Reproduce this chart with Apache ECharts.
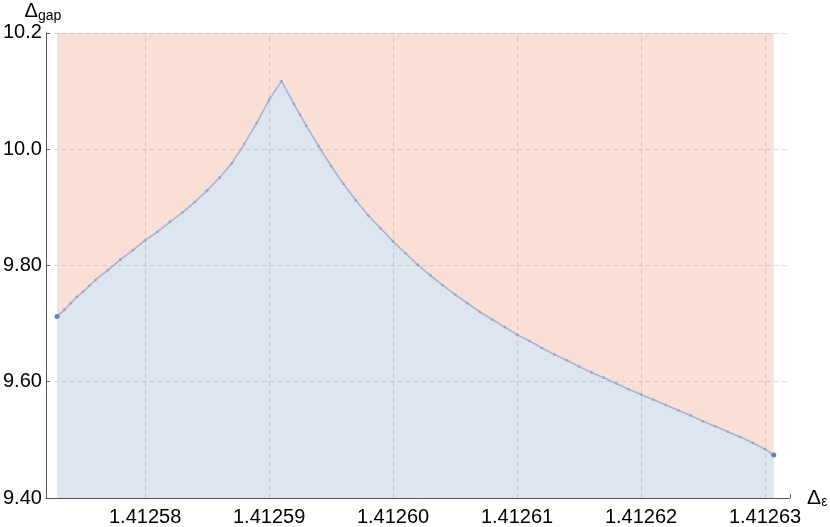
<!DOCTYPE html>
<html>
<head>
<meta charset="utf-8">
<script src="https://cdn.jsdelivr.net/npm/echarts@6/dist/echarts.min.js"></script>
<style>html,body{margin:0;padding:0;background:#fff;}#c{width:830px;height:527px;}</style>
</head>
<body>
<div id="c"></div>
<script>
// Δε values (x)
var deltaEps = [
  1.4125729, 1.4125735, 1.412574, 1.4125745, 1.412575, 1.4125755, 1.412576,
  1.412577, 1.412578, 1.412579, 1.41258, 1.412581, 1.412582, 1.412583, 1.412584,
  1.412585, 1.412586, 1.412587, 1.412588, 1.412589, 1.41259, 1.412591, 1.412592,
  1.4125925, 1.412593, 1.412594, 1.412595, 1.412596, 1.412597, 1.412598, 1.412599,
  1.4126, 1.412601, 1.412602, 1.412603, 1.412604, 1.412605, 1.412606, 1.412607,
  1.412608, 1.412609, 1.41261, 1.412611, 1.412612, 1.412613, 1.412614, 1.412615,
  1.412616, 1.412617, 1.412618, 1.412619, 1.41262, 1.412621, 1.412622, 1.412623,
  1.412624, 1.412625, 1.412626, 1.412627, 1.412628, 1.412629, 1.41263, 1.4126307
];
// Δgap values (y)
var deltaGap = [
  9.712, 9.724, 9.735, 9.746, 9.755, 9.765, 9.775,
  9.792, 9.810, 9.826, 9.843, 9.858, 9.875, 9.891, 9.909,
  9.929, 9.951, 9.976, 10.009, 10.045, 10.085, 10.117, 10.078,
  10.059, 10.040, 10.005, 9.971, 9.940, 9.912, 9.886, 9.864,
  9.841, 9.821, 9.801, 9.783, 9.766, 9.750, 9.735, 9.720,
  9.707, 9.694, 9.681, 9.670, 9.658, 9.647, 9.637, 9.626,
  9.616, 9.607, 9.597, 9.587, 9.578, 9.569, 9.560, 9.551,
  9.542, 9.532, 9.523, 9.514, 9.505, 9.495, 9.484, 9.474
];
// tick labels
var xMajorTicks = [1.41258, 1.41259, 1.41260, 1.41261, 1.41262, 1.41263];
var yTickValues = [9.4, 9.6, 9.8, 10.0, 10.2];
var yTickLabels = ['9.40', '9.60', '9.80', '10.0', '10.2'];

var pts = deltaEps.map(function (x, i) {
  var item = { value: [x, deltaGap[i]] };
  if (i === 0 || i === deltaEps.length - 1) {
    item.symbolSize = 5;
    item.itemStyle = { color: '#6483bb' };
  }
  return item;
});

var FONT = 'Liberation Sans, Arial, sans-serif';
var gridLineStyle = { color: 'rgba(120,120,120,0.24)', width: 1, type: [5, 3] };
var yLo = yTickValues[0], yHi = yTickValues[yTickValues.length - 1];

var gridLines = xMajorTicks.map(function (x) {
  return [{ coord: [x, yLo] }, { coord: [x, yHi] }];
}).concat(yTickValues.slice(1).map(function (y) { return { yAxis: y }; }));

var chart = echarts.init(document.getElementById('c'), null, { renderer: 'canvas' });
chart.setOption({
  animation: false,
  backgroundColor: '#ffffff',
  grid: { left: 44, right: 31, top: 32, bottom: 29, containLabel: false },
  xAxis: {
    type: 'value',
    min: 1.412572,
    max: 1.412632,
    interval: 0.000002,
    name: '{d|Δ}{s|ε}',
    nameLocation: 'end',
    nameGap: 8,
    nameTextStyle: {
      rich: {
        d: { fontFamily: FONT, fontSize: 21, color: '#000', lineHeight: 20 },
        s: { fontFamily: FONT, fontSize: 14, color: '#000', lineHeight: 20, padding: [9, 0, 0, 0] }
      }
    },
    axisLine: { show: true, lineStyle: { color: '#555', width: 1 } },
    axisTick: { show: true, inside: true, length: 4, lineStyle: { color: '#555' } },
    splitLine: { show: false },
    axisLabel: {
      fontFamily: FONT, fontSize: 20, color: '#000', margin: 9,
      showMinLabel: true, showMaxLabel: true,
      formatter: function (v) {
        var k = Math.round(v * 1e6);
        if (k % 10 !== 0) return '';
        for (var i = 0; i < xMajorTicks.length; i++) {
          if (Math.abs(xMajorTicks[i] - v) < 1e-8) return xMajorTicks[i].toFixed(5);
        }
        return '';
      }
    }
  },
  yAxis: {
    type: 'value',
    min: 9.4,
    max: 10.2,
    interval: 0.2,
    name: '{d|Δ}{s|gap}',
    nameLocation: 'end',
    nameGap: 6,
    nameTextStyle: {
      align: 'center',
      padding: [0, 0, 0, -6],
      rich: {
        d: { fontFamily: FONT, fontSize: 20, color: '#000', lineHeight: 20 },
        s: { fontFamily: FONT, fontSize: 14, color: '#000', lineHeight: 20, padding: [9, 0, 0, 0] }
      }
    },
    axisLine: { show: true, lineStyle: { color: '#555', width: 1 } },
    axisTick: { show: true, inside: true, length: 4, lineStyle: { color: '#555' } },
    splitLine: { show: false },
    axisLabel: {
      fontFamily: FONT, fontSize: 20, color: '#000', margin: 4,
      formatter: function (v) {
        for (var i = 0; i < yTickValues.length; i++) {
          if (Math.abs(yTickValues[i] - v) < 1e-6) return yTickLabels[i];
        }
        return '';
      }
    }
  },
  series: [
    {
      name: 'above',
      type: 'line',
      z: 1,
      silent: true,
      data: pts.map(function (p) { return p.value; }),
      showSymbol: false,
      lineStyle: { opacity: 0 },
      markArea: {
        silent: true,
        itemStyle: { color: '#fadfd6', opacity: 1 },
        data: [[
          { coord: [deltaEps[0], yLo] },
          { coord: [deltaEps[deltaEps.length - 1], yHi] }
        ]]
      }
    },
    {
      name: 'gap',
      type: 'line',
      z: 3,
      data: pts,
      symbol: 'circle',
      symbolSize: 2.6,
      showSymbol: true,
      itemStyle: { color: '#90a4cb' },
      lineStyle: { color: '#a6b5d2', width: 1.6 },
      areaStyle: { color: '#dee5ef', opacity: 1, origin: 'start' }
    },
    {
      name: 'grid',
      type: 'line',
      z: 5,
      silent: true,
      data: pts.map(function (p) { return p.value; }),
      showSymbol: false,
      lineStyle: { opacity: 0 },
      markLine: {
        silent: true,
        symbol: ['none', 'none'],
        label: { show: false },
        lineStyle: gridLineStyle,
        emphasis: { disabled: true },
        data: gridLines
      }
    }
  ]
});
</script>
</body>
</html>
